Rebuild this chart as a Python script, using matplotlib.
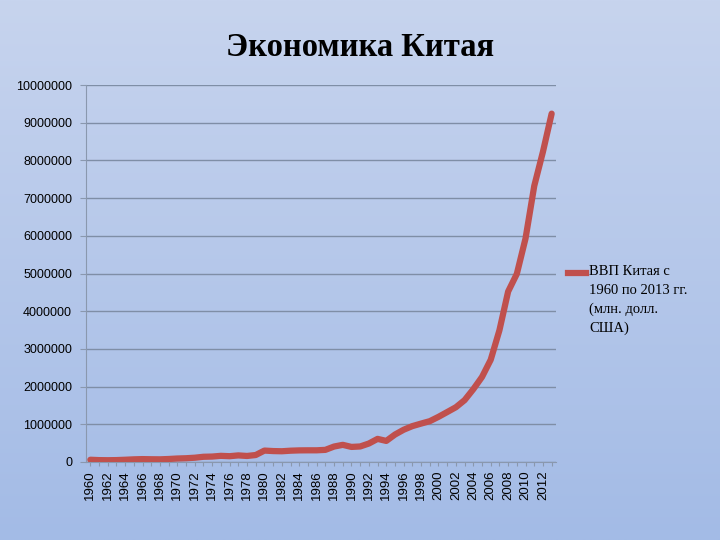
import numpy as np
import matplotlib
matplotlib.use("Agg")
from matplotlib import pyplot as plt
from matplotlib.lines import Line2D

# ВВП Китая, млн. долл. США
years = list(range(1960, 2014))
gdp = [59700, 50100, 47200, 50700, 59700, 70400, 76700, 72900, 70800, 79700,
       92600, 99800, 113700, 138500, 144200, 163400, 153900, 174900, 160000, 185000,
       303000, 290000, 285000, 300000, 308000, 310000, 310000, 322000, 410000, 455000,
       400000, 412000, 490000, 613000, 559000, 728000, 856000, 952000, 1019000, 1083000,
       1198000, 1325000, 1453000, 1641000, 1931000, 2256000, 2712000, 3494000, 4521000, 4990000,
       5930000, 7322000, 8229000, 9240000]
y_ticks = list(range(0, 10000001, 1000000))
title = 'Экономика Китая'
legend_label = 'ВВП Китая с\n1960 по 2013 гг.\n(млн. долл.\nСША)'
line_color = '#C0504D'

fig = plt.figure(figsize=(7.2, 5.4), dpi=100)

# градиентный фон
bg = fig.add_axes([0, 0, 1, 1], zorder=-10)
top = np.array([199, 212, 238]) / 255
bot = np.array([163, 187, 230]) / 255
t = np.linspace(0, 1, 256)[:, None]
grad = top[None, None, :] * (1 - t[:, :, None]) + bot[None, None, :] * t[:, :, None]
grad = np.repeat(grad, 2, axis=1)
bg.imshow(grad, aspect='auto', extent=[0, 1, 0, 1])
bg.axis('off')

ax = fig.add_axes([86 / 720, 1 - 462 / 540, 470 / 720, 377 / 540])
ax.set_facecolor('none')

x = np.arange(len(years))
ax.plot(x, gdp, color=line_color, lw=4.5, solid_capstyle='round', solid_joinstyle='round',
        zorder=3)

ax.set_xlim(-0.5, len(years) - 0.5)
ax.set_ylim(0, 10000000)
ax.set_yticks(y_ticks)
ax.set_yticklabels([str(v) for v in y_ticks], family='Liberation Sans', fontsize=9)
ax.set_xticks(x)
ax.set_xticklabels([str(yr) if yr % 2 == 0 else '' for yr in years],
                   rotation=90, family='Liberation Sans', fontsize=9.5)
ax.tick_params(axis='x', length=3, color='#8a98ae', pad=3)
ax.tick_params(axis='y', length=4, color='#8a98ae', pad=6)
ax.grid(axis='y', color='#7f8ea6', lw=1)
for s in ['top', 'right']:
    ax.spines[s].set_visible(False)
ax.spines['left'].set_color('#8a98ae')
ax.spines['bottom'].set_color('#8a98ae')

fig.text(0.5, 1 - 47 / 540, title, ha='center', va='center',
         family='Liberation Serif', fontweight='bold', fontsize=23.5)

# легенда справа
fig.add_artist(Line2D([568 / 720, 586 / 720], [1 - 273 / 540, 1 - 273 / 540],
                      color=line_color, lw=4.5, transform=fig.transFigure))
fig.text(589 / 720, 1 - 265 / 540, legend_label, ha='left', va='top',
         family='Liberation Serif', fontsize=10.5, linespacing=1.55)

fig.savefig('out.png', dpi=100)
